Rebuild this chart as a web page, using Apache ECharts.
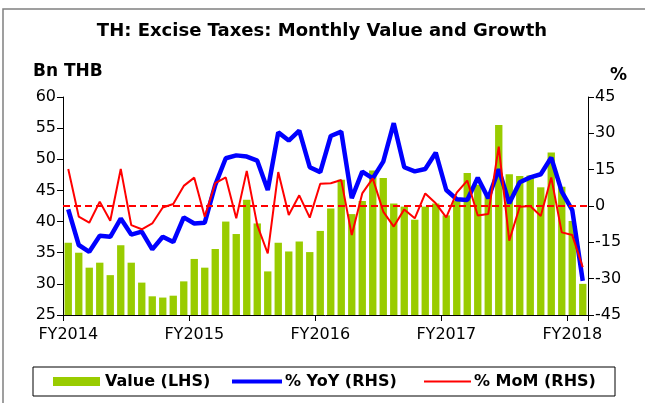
<!DOCTYPE html>
<html>
<head>
<meta charset="utf-8">
<script src="https://cdn.jsdelivr.net/npm/echarts@6/dist/echarts.min.js"></script>
<style>
html,body{margin:0;padding:0;background:#fff;}
#c{width:645px;height:403px;}
</style>
</head>
<body>
<div id="c"></div>
<script>
const categories = ['Oct-13','Nov-13','Dec-13','Jan-14','Feb-14','Mar-14','Apr-14','May-14','Jun-14','Jul-14','Aug-14','Sep-14',
  'Oct-14','Nov-14','Dec-14','Jan-15','Feb-15','Mar-15','Apr-15','May-15','Jun-15','Jul-15','Aug-15','Sep-15',
  'Oct-15','Nov-15','Dec-15','Jan-16','Feb-16','Mar-16','Apr-16','May-16','Jun-16','Jul-16','Aug-16','Sep-16',
  'Oct-16','Nov-16','Dec-16','Jan-17','Feb-17','Mar-17','Apr-17','May-17','Jun-17','Jul-17','Aug-17','Sep-17',
  'Oct-17','Nov-17'];
const fyLabels = ['FY2014','FY2015','FY2016','FY2017','FY2018'];
const valueLHS = [36.6,35.0,32.6,33.4,31.4,36.2,33.4,30.2,28.0,27.8,28.1,30.4,
  34.0,32.6,35.6,40.0,38.0,43.5,39.7,32.0,36.6,35.2,36.8,35.1,
  38.5,42.1,46.7,41.2,43.3,48.2,47.0,42.9,42.4,40.3,42.4,42.9,
  41.0,43.3,47.8,45.9,44.4,55.5,47.6,47.3,47.4,45.5,51.1,45.6,
  40.1,30.0];
const yoyRHS = [-1.4,-16.1,-18.9,-12.3,-12.7,-5.2,-11.8,-10.6,-17.9,-12.7,-14.9,-4.7,
  -7.2,-6.9,8.7,19.7,20.9,20.4,18.7,6.6,30.4,27.0,31.1,16.0,
  14.0,28.9,30.7,3.2,14.2,11.4,18.3,34.2,16.0,14.3,15.3,22.0,
  6.6,2.8,2.5,11.7,3.2,15.2,1.1,9.8,11.8,13.1,20.0,5.9,
  -1.7,-30.9];
const momRHS = [15.3,-4.4,-6.9,1.8,-6.1,15.3,-7.9,-9.6,-7.2,-0.6,0.8,8.3,
  11.7,-4.4,9.4,11.8,-5.1,14.5,-7.9,-19.6,14.0,-3.7,4.4,-4.8,
  9.2,9.4,10.7,-12.0,5.2,11.4,-2.3,-8.5,-1.4,-5.1,5.2,1.1,
  -4.7,5.5,10.5,-3.9,-3.3,24.5,-14.3,-0.3,0.0,-4.1,11.8,-10.9,
  -12.0,-25.3];
const leftTicks = {min:25, max:60, interval:5};
const rightTicks = {min:-45, max:45, interval:15};
const seriesNames = ['Value (LHS)','% YoY (RHS)','% MoM (RHS)'];

const FONT = '"DejaVu Sans", sans-serif';
const chart = echarts.init(document.getElementById('c'), null, {renderer:'canvas'});
chart.setOption({
  animation:false,
  backgroundColor:'#ffffff',
  grid:{left:63, right:57, top:97, bottom:88, containLabel:false},
  xAxis:{
    type:'category', data:categories, boundaryGap:true,
    axisLine:{onZero:false, lineStyle:{color:'#000', width:1}},
    axisTick:{show:true, interval:11, length:6, lineStyle:{color:'#000'}},
    axisLabel:{interval:11, margin:12, color:'#000', fontFamily:FONT, fontSize:16,
      formatter:function(v, i){ return fyLabels[Math.round(i/12)] || ''; }},
    splitLine:{show:false}
  },
  yAxis:[
    {type:'value', min:leftTicks.min, max:leftTicks.max, interval:leftTicks.interval,
      axisLine:{show:true, onZero:false, lineStyle:{color:'#000'}},
      axisTick:{show:true, length:6, lineStyle:{color:'#000'}},
      axisLabel:{color:'#000', fontFamily:FONT, fontSize:16, margin:7},
      splitLine:{show:false}},
    {type:'value', min:rightTicks.min, max:rightTicks.max, interval:rightTicks.interval, position:'right',
      axisLine:{show:true, onZero:false, lineStyle:{color:'#000'}},
      axisTick:{show:true, length:6, lineStyle:{color:'#000'}},
      axisLabel:{color:'#000', fontFamily:FONT, fontSize:16, margin:7},
      splitLine:{show:false}}
  ],
  legend:{show:false},
  series:[
    {name:seriesNames[0], type:'bar', data:valueLHS, yAxisIndex:0, barCategoryGap:'30%',
      itemStyle:{color:'#99CC00'}, z:1},
    {name:seriesNames[1], type:'line', data:yoyRHS, yAxisIndex:1, symbol:'none', showSymbol:false,
      lineStyle:{color:'#0000FF', width:4.5}, itemStyle:{color:'#0000FF'}, z:3},
    {name:seriesNames[2], type:'line', data:momRHS, yAxisIndex:1, symbol:'none', showSymbol:false,
      lineStyle:{color:'#FF0000', width:2}, itemStyle:{color:'#FF0000'}, z:4,
      markLine:{silent:true, symbol:'none', label:{show:false}, emphasis:{disabled:true},
        lineStyle:{color:'#FF0000', width:2, type:[7,4], opacity:1},
        data:[{yAxis:0}]}}
  ],
  graphic:[
    {type:'rect', shape:{x:3, y:9, width:700, height:500}, style:{fill:'none', stroke:'#808080', lineWidth:1.5}, z:-10, silent:true},
    {type:'text', x:322, y:31, style:{text:'TH: Excise Taxes: Monthly Value and Growth', fontFamily:FONT, fontWeight:'bold', fontSize:18, fill:'#000', align:'center', verticalAlign:'middle'}},
    {type:'text', x:33, y:72, style:{text:'Bn THB', fontFamily:FONT, fontWeight:'bold', fontSize:17, fill:'#000', align:'left', verticalAlign:'middle'}},
    {type:'text', x:610, y:76, style:{text:'%', fontFamily:FONT, fontWeight:'bold', fontSize:17, fill:'#000', align:'left', verticalAlign:'middle'}},
    {type:'rect', shape:{x:33, y:367, width:582, height:29}, style:{fill:'#fff', stroke:'#000', lineWidth:1}, silent:true},
    {type:'rect', shape:{x:53, y:377, width:47, height:9}, style:{fill:'#99CC00'}, silent:true},
    {type:'text', x:105, y:382, style:{text:seriesNames[0], fontFamily:FONT, fontWeight:'bold', fontSize:16, fill:'#000', align:'left', verticalAlign:'middle'}},
    {type:'line', shape:{x1:232, y1:381.5, x2:282, y2:381.5}, style:{stroke:'#0000FF', lineWidth:4}, silent:true},
    {type:'text', x:285, y:382, style:{text:seriesNames[1], fontFamily:FONT, fontWeight:'bold', fontSize:16, fill:'#000', align:'left', verticalAlign:'middle'}},
    {type:'line', shape:{x1:424, y1:381.5, x2:471, y2:381.5}, style:{stroke:'#FF0000', lineWidth:2}, silent:true},
    {type:'text', x:474, y:382, style:{text:seriesNames[2], fontFamily:FONT, fontWeight:'bold', fontSize:16, fill:'#000', align:'left', verticalAlign:'middle'}}
  ]
});
</script>
</body>
</html>
